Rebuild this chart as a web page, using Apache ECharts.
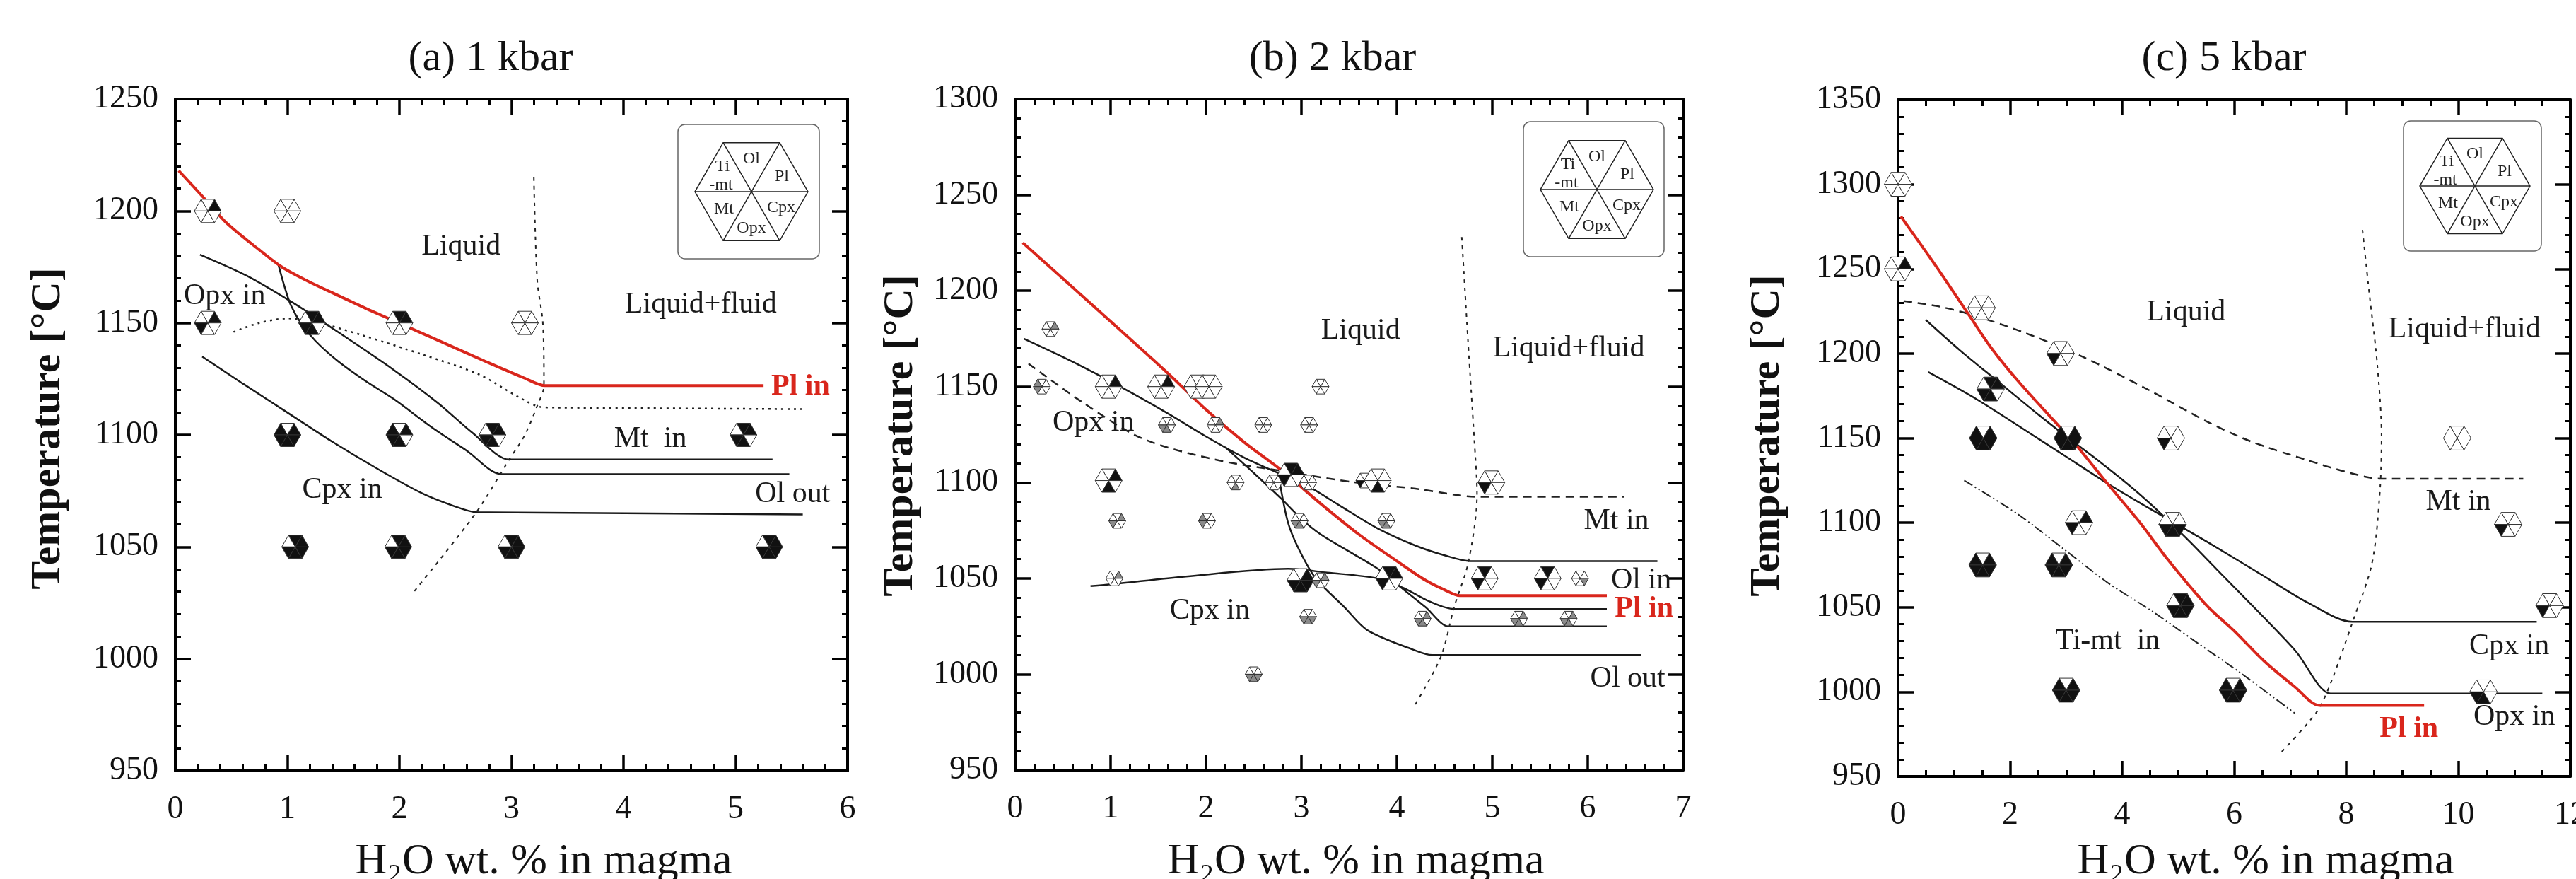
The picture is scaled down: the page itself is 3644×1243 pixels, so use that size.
<!DOCTYPE html>
<html>
<head>
<meta charset="utf-8">
<title>Phase relations at 1, 2 and 5 kbar</title>
<script src="https://cdn.jsdelivr.net/npm/echarts@6.0.0/dist/echarts.min.js"></script>
<style>
  html, body { margin: 0; padding: 0; background: #fff; }
  #main { width: 3644px; height: 1243px; }
</style>
</head>
<body>
<div id="main"></div>
<script>
var SERIF = '"Liberation Serif", "Times New Roman", serif';

// ---------- (a) 1 kbar ----------
var plInA   = [[0.03,1218],[0.27,1205],[0.45,1195],[0.74,1183],[0.95,1175],[1.15,1169.5],[1.4,1163.5],[1.7,1156.5],[1.95,1151],[2.4,1141],[2.76,1133],[3.11,1125.5],[3.3,1122],[3.45,1122],[5.25,1122]];
var opxInA  = [[0.52,1146],[0.75,1150],[1.0,1152],[1.25,1150.5],[1.7,1144],[2.2,1136],[2.71,1127],[3.06,1117],[3.26,1112.5],[3.4,1112.2],[5.6,1111.5]];
var fluidA  = [[3.2,1215],[3.23,1169],[3.28,1150],[3.29,1122],[3.23,1113],[3.12,1100],[2.98,1089],[2.68,1065],[2.13,1030]];
var upperA  = [[0.22,1180.5],[0.64,1171],[1.05,1159],[1.45,1146],[1.95,1129],[2.35,1114],[2.65,1101],[2.98,1089],[3.1,1089],[5.33,1089]];
var steepA  = [[0.92,1176],[0.97,1167],[1.03,1158],[1.12,1150],[1.25,1142],[1.45,1133],[1.7,1124],[1.95,1116],[2.3,1103],[2.6,1093],[2.91,1082.5],[3.03,1082.5],[5.48,1082.5]];
var lowerA  = [[0.24,1135],[0.6,1123],[1.0,1110],[1.4,1097],[1.8,1085],[2.2,1074],[2.5,1068],[2.68,1065.5],[2.8,1065.4],[5.6,1064.5]];
// runs: [H2O, T, phases (Ol,Pl,Cpx,Opx,Mt,Ti-mt: w none, k present, g other), source]
var runsA = [
  [0.29,1200,'wkwwww',0],[1.0,1200,'wwwwww',0],
  [0.29,1150,'wkwwkw',0],[1.22,1150,'kkwkkw',0],[2.0,1150,'kkwwww',0],[3.12,1150,'wwwwww',0],
  [1.0,1100,'wkkkkk',0],[2.0,1100,'wkwkkk',0],[2.83,1100,'kkwkkw',0],[5.07,1100,'kkwkkw',0],
  [1.07,1050,'kkkkkw',0],[1.99,1050,'kkkkkw',0],[3.0,1050,'kkkkkw',0],[5.3,1050,'kkkkkw',0]
];
var notesA = [['Liquid',2.55,1184],['Opx in',0.44,1162],['Liquid+fluid',4.69,1158],['Pl in',5.58,1121.5],
  ['Mt  in',4.24,1098],['Cpx in',1.49,1075.5],['Ol out',5.51,1073.5]];

// ---------- (b) 2 kbar ----------
var plInB   = [[0.08,1225],[1.0,1184],[1.6,1157],[2.0,1138],[2.4,1121],[2.8,1106],[3.2,1089],[3.6,1073],[4.0,1059],[4.3,1049],[4.5,1044],[4.66,1041],[4.8,1041],[6.2,1041]];
var opxInB  = [[0.14,1162],[0.7,1142],[1.33,1123],[2.09,1112],[2.86,1105.5],[3.57,1100],[4.16,1097],[4.87,1092.5],[5.0,1092.5],[6.38,1092.5]];
var fluidB  = [[4.68,1228],[4.75,1170],[4.81,1123],[4.84,1094],[4.75,1058.6],[4.6,1035],[4.46,1009],[4.19,984]];
var olInB   = [[0.09,1175],[0.6,1163],[1.1,1150],[1.6,1136],[2.0,1124],[2.4,1113],[2.8,1104],[3.07,1098],[3.4,1088],[3.8,1076],[4.2,1067],[4.5,1062],[4.77,1059],[4.9,1059],[6.73,1059]];
var midB    = [[2.2,1118.5],[2.5,1105],[2.8,1091],[3.0,1081],[3.2,1073],[3.5,1064],[3.8,1055],[4.0,1047],[4.3,1035],[4.54,1025],[4.67,1025],[6.2,1025]];
var olOutB  = [[2.77,1101],[2.86,1079],[2.98,1064.5],[3.15,1050],[3.45,1035],[3.69,1023],[4.16,1013],[4.37,1010],[4.5,1010],[6.56,1010]];
var cpxInB  = [[0.79,1046],[1.02,1047],[1.79,1051],[2.86,1055],[3.27,1053],[3.8,1050],[4.07,1045],[4.34,1038],[4.6,1034],[4.73,1034],[6.2,1034]];
var runsB = [
  [0.37,1180,'wgwwww',0],[0.28,1150,'wwwwgg',0],[0.98,1150,'wkwwww',1],[1.53,1150,'wkwwww',1],
  [1.91,1150,'wwwwww',1],[2.03,1150,'wwwwww',1],[3.2,1150,'wwwwww',0],
  [1.59,1130,'wwwggw',0],[2.1,1130,'wgwwww',0],[2.6,1130,'wwwwww',0],[3.08,1130,'wwwwww',0],
  [0.98,1101,'wkwkww',1],[1.07,1080,'wgwwgw',0],[1.04,1050,'wgwwww',0],[2.01,1080,'wwwwgg',0],
  [2.31,1100,'wwwgww',0],[2.5,1000,'wwgggw',0],[2.71,1100,'wwwwww',0],[2.89,1104,'kkwwkw',1],
  [3.07,1100,'wwwwww',0],[2.98,1080,'wwwggw',0],[3.07,1030,'wwgggw',0],[2.99,1049,'wkkkkw',1],
  [3.2,1049,'wgwwgw',0],[3.66,1101,'wwwwkw',0],[3.8,1101,'wwwkww',1],[3.89,1080,'wwwggw',0],
  [3.92,1050,'kkwwkw',1],[4.27,1029,'wgwggw',0],[4.99,1100,'wwwwkw',1],[4.92,1050,'kwwwkw',1],
  [5.58,1050,'kwwwkw',1],[5.92,1050,'wwgwww',0],[5.28,1029,'wgwggw',0],[5.8,1029,'wgwggw',0]
];
var notesB = [['Liquid',3.62,1179],['Liquid+fluid',5.8,1170],['Opx in',0.82,1131],['Mt in',6.3,1080],
  ['Ol in',6.56,1049],['Pl in',6.59,1034],['Ol out',6.42,997.5],['Cpx in',2.04,1033]];

// ---------- (c) 5 kbar ----------
var plInC   = [[0.05,1281],[0.69,1251],[1.28,1222],[1.67,1203],[2.16,1183],[2.9,1156],[3.2,1145],[3.74,1123],[4.33,1099.5],[4.82,1078],[5.51,1051],[6.0,1036],[6.54,1018],[7.08,1003],[7.52,992],[7.75,992],[9.39,992]];
var mtInC   = [[0.1,1231],[0.7,1228],[1.3,1223],[2.2,1213],[3.3,1198],[4.5,1178],[5.5,1160],[6.3,1148],[7.3,1137],[8.0,1130],[8.6,1126],[8.85,1126],[11.16,1126]];
var fluidC  = [[8.29,1273],[8.41,1236],[8.55,1195],[8.63,1151],[8.6,1118],[8.46,1076],[8.11,1041],[7.72,1005],[7.47,988],[6.83,964]];
var opxInC  = [[0.49,1220],[1.1,1202],[1.8,1183],[2.5,1164],[3.0,1151],[3.6,1136],[4.2,1120],[4.72,1104.5],[5.2,1089],[5.7,1072],[6.5,1045],[7.1,1024],[7.72,999],[7.95,999],[11.5,999]];
var cpxInC  = [[0.54,1189],[1.4,1173],[2.3,1154],[3.0,1139],[3.7,1124],[4.3,1112],[4.77,1103],[5.5,1089],[6.5,1069],[7.3,1053],[8.11,1041.4],[8.35,1041.4],[11.4,1041.4]];
var timtInC = [[1.18,1125],[2.16,1104.5],[2.95,1084.6],[3.74,1064.6],[4.52,1048],[5.31,1029.7],[6.1,1011.5],[7.08,987.4]];
var runsC = [
  [0,1300,'wwwwww',0],[0,1250,'wkwwww',0],[1.49,1227,'wwwwww',0],[2.9,1200,'wwwwkw',0],
  [1.65,1179,'kkwkkw',0],[1.52,1150,'wkkkkk',0],[3.03,1150,'wkkkkk',0],[4.87,1150,'wwwwkw',0],
  [9.98,1150,'wwwwww',0],[3.23,1100,'wkwwkw',0],[4.9,1099,'wwkkkw',0],[10.89,1099,'wwwwkw',0],
  [1.51,1075,'wkkkkk',0],[2.87,1075,'wkkkkk',0],[5.04,1051,'kkkkkw',0],[11.63,1051,'wwwwkw',0],
  [3.0,1001,'wkkkkk',0],[5.98,1001,'wkkkkk',0],[10.45,1000,'wwwkkw',0]
];
var notesC = [['Liquid',5.14,1224],['Liquid+fluid',10.11,1214],['Mt in',10.0,1112],['Cpx in',10.91,1027],
  ['Opx in',11.0,985],['Ti-mt  in',3.74,1029.7],['Pl in',9.12,978]];

var legendPhases = ['Ol','Pl','Cpx','Opx','Mt','Ti','-mt'];

// ---------- styles ----------
var STY = {
  solid:  { color: '#1a1a1a', width: 2.5, type: 'solid' },
  red:    { color: '#d9261c', width: 4, type: 'solid' },
  dot:    { color: '#222', width: 2.5, type: [3, 6] },
  fluid:  { color: '#222', width: 2, type: [5, 7] },
  dash:   { color: '#222', width: 2.5, type: [12, 8] },
  dashdot:{ color: '#222', width: 2, type: [14, 4, 2, 4, 2, 4] }
};
var FILL = { w: '#ffffff', k: '#111111', g: '#8a8a8a' };
var SECTOR = [1, 0, 5, 4, 3, 2]; // wedge k (counter-clockwise from right) -> phase index

var panels = [
  { grid: { left: 248, top: 140, width: 951, height: 950 }, xmax: 6, xint: 1, xminor: 5, ymin: 950, ymax: 1250,
    lines: [[lowerA,'solid'],[steepA,'solid'],[upperA,'solid'],[opxInA,'dot'],[fluidA,'fluid'],[plInA,'red']],
    runs: runsA, r: [19, 19], notes: notesA,
    title: ['(a) 1 kbar', 694], xname: 769, yname: [68, 606], legend: [1063, 271, 80, [959, 176, 200, 190]] },
  { grid: { left: 1436, top: 140, width: 945, height: 949 }, xmax: 7, xint: 1, xminor: 5, ymin: 950, ymax: 1300,
    lines: [[olInB,'solid'],[midB,'solid'],[olOutB,'solid'],[cpxInB,'solid'],[opxInB,'dash'],[fluidB,'fluid'],[plInB,'red']],
    runs: runsB, r: [12, 19], notes: notesB,
    title: ['(b) 2 kbar', 1885], xname: 1918, yname: [1274, 616], legend: [2259, 268, 80, [2155, 172, 199, 191]] },
  { grid: { left: 2685, top: 141, width: 951, height: 957 }, xmax: 12, xint: 2, xminor: 4, ymin: 950, ymax: 1350,
    lines: [[opxInC,'solid'],[cpxInC,'solid'],[timtInC,'dashdot'],[mtInC,'dash'],[fluidC,'fluid'],[plInC,'red']],
    runs: runsC, r: [19.5, 19.5], notes: notesC,
    title: ['(c) 5 kbar', 3146], xname: 3205, yname: [2500, 616], legend: [3501, 263, 78, [3400, 171, 195, 184]] }
];

function axisBase(gi, pos, min, max, interval, minor, showLabel, isX) {
  return {
    type: 'value', gridIndex: gi, position: pos, min: min, max: max, interval: interval,
    axisLine: { show: true, onZero: false, lineStyle: { color: '#000', width: 4 } },
    axisTick: { show: true, inside: true, length: 22, lineStyle: { color: '#000', width: 3.5 } },
    minorTick: { show: true, splitNumber: minor, length: isX ? 9 : 8, lineStyle: { color: '#000', width: 3 } },
    axisLabel: { show: showLabel, margin: isX ? 32 : 24, showMinLabel: true, showMaxLabel: true,
      formatter: function (v) { return String(v); },
      fontFamily: SERIF, fontSize: 46, color: '#111' },
    splitLine: { show: false }, minorSplitLine: { show: false }
  };
}

function hexGlyph(runs, r) {
  return function (params, api) {
    var p = runs[params.dataIndex];
    var c = api.coord([p[0], p[1]]);
    var R = r[p[3]];
    var v = [], kids = [], k;
    for (k = 0; k < 6; k++) v.push([c[0] + R * Math.cos(k * Math.PI / 3), c[1] - R * Math.sin(k * Math.PI / 3)]);
    for (k = 0; k < 6; k++) {
      kids.push({ type: 'polygon', shape: { points: [c, v[k], v[(k + 1) % 6]] },
        style: { fill: FILL[p[2].charAt(SECTOR[k])], stroke: '#333', lineWidth: 1 } });
    }
    return { type: 'group', children: kids };
  };
}

function noteText(notes) {
  return function (params, api) {
    var t = notes[params.dataIndex];
    var c = api.coord([t[1], t[2]]);
    var red = t[0] === 'Pl in';
    return { type: 'text', x: c[0], y: c[1], style: {
      text: t[0], fill: red ? '#d9261c' : '#1a1a1a', font: (red ? 'bold ' : '') + '42px ' + SERIF,
      align: 'center', verticalAlign: 'middle' } };
  };
}

function legendHex(lg) {
  var cx = lg[0], cy = lg[1], R = lg[2], box = lg[3];
  var v = [], k;
  for (k = 0; k < 6; k++) v.push([R * Math.cos(k * Math.PI / 3), -R * Math.sin(k * Math.PI / 3)]);
  var s = R / 80;
  var kids = [
    { type: 'rect', shape: { x: box[0] - cx, y: box[1] - cy, width: box[2], height: box[3], r: 10 },
      style: { fill: '#fff', stroke: '#666', lineWidth: 1.5 } },
    { type: 'polygon', shape: { points: v }, style: { fill: 'none', stroke: '#222', lineWidth: 1.5 } }
  ];
  for (k = 0; k < 3; k++) {
    kids.push({ type: 'line', shape: { x1: v[k][0], y1: v[k][1], x2: v[k + 3][0], y2: v[k + 3][1] },
      style: { stroke: '#222', lineWidth: 1.5 } });
  }
  var off = [[0, -46], [43, -21], [42, 23], [0, 52], [-39, 25], [-41, -35], [-43, -9]];
  legendPhases.forEach(function (name, i) {
    kids.push({ type: 'text', x: off[i][0] * s, y: off[i][1] * s, style: {
      text: name, fill: '#222', font: '24px ' + SERIF, align: 'center', verticalAlign: 'middle' } });
  });
  return { type: 'group', x: cx, y: cy, z: 10, children: kids };
}

var grids = [], xAxes = [], yAxes = [], series = [], graphics = [];
panels.forEach(function (pn, i) {
  var g = pn.grid;
  grids.push({ left: g.left, top: g.top, width: g.width, height: g.height, outerBoundsMode: 'none', containLabel: false });
  xAxes.push(axisBase(i, 'bottom', 0, pn.xmax, pn.xint, pn.xminor, true, true));
  xAxes.push(axisBase(i, 'top', 0, pn.xmax, pn.xint, pn.xminor, false, true));
  yAxes.push(axisBase(i, 'left', pn.ymin, pn.ymax, 50, 5, true, false));
  yAxes.push(axisBase(i, 'right', pn.ymin, pn.ymax, 50, 5, false, false));

  pn.lines.forEach(function (ln) {
    series.push({ type: 'line', xAxisIndex: 2 * i, yAxisIndex: 2 * i, data: ln[0], symbol: 'none',
      smooth: 0.3, lineStyle: STY[ln[1]], z: 2, silent: true });
  });
  series.push({ type: 'custom', xAxisIndex: 2 * i, yAxisIndex: 2 * i, clip: false, z: 4, silent: true,
    data: pn.runs.map(function (p) { return [p[0], p[1]]; }), encode: { x: 0, y: 1 },
    renderItem: hexGlyph(pn.runs, pn.r) });
  series.push({ type: 'custom', xAxisIndex: 2 * i, yAxisIndex: 2 * i, clip: false, z: 5, silent: true,
    data: pn.notes.map(function (t) { return [t[1], t[2]]; }), encode: { x: 0, y: 1 },
    renderItem: noteText(pn.notes) });

  graphics.push({ type: 'text', x: pn.title[1], y: 83, style: {
    text: pn.title[0], fill: '#111', font: '60px ' + SERIF, align: 'center', verticalAlign: 'middle' } });
  graphics.push({ type: 'text', x: pn.xname, y: 1219, style: {
    text: 'H\u2082O wt. % in magma', fill: '#111', font: '62px ' + SERIF, align: 'center', verticalAlign: 'middle' } });
  graphics.push({ type: 'text', x: pn.yname[0], y: pn.yname[1], rotation: Math.PI / 2, style: {
    text: 'Temperature [\u00B0C]', fill: '#111', font: 'bold 60px ' + SERIF, align: 'center', verticalAlign: 'middle' } });
  graphics.push(legendHex(pn.legend));
});

var chart = echarts.init(document.getElementById('main'));
chart.setOption({
  animation: false,
  backgroundColor: '#fff',
  grid: grids,
  xAxis: xAxes,
  yAxis: yAxes,
  series: series,
  graphic: { elements: graphics }
});
</script>
</body>
</html>
